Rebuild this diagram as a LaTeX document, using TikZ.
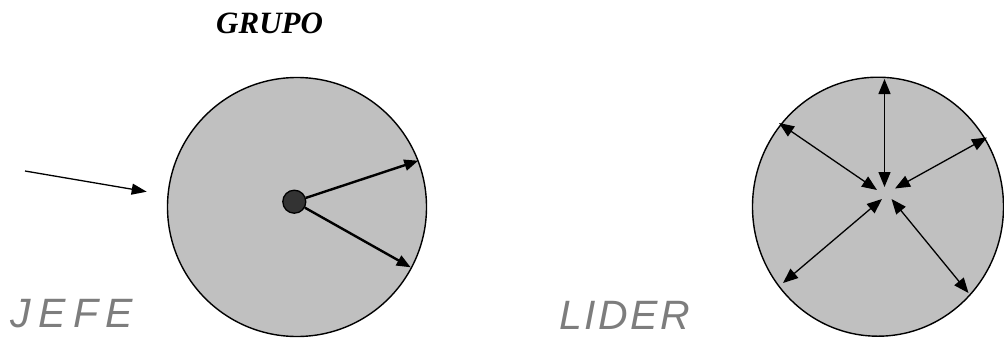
\documentclass[tikz,border=0pt]{standalone}
\usepackage{fontspec}
\setmainfont{Liberation Serif}
\newfontfamily\jefefont[LetterSpace=18.5]{Liberation Sans}
\newfontfamily\liderfont[LetterSpace=6.5]{Liberation Sans}
\usetikzlibrary{arrows.meta,shapes.geometric}
\definecolor{circfill}{RGB}{192,192,192}
\definecolor{labgray}{RGB}{125,125,125}
\definecolor{dotfill}{RGB}{51,51,51}
\begin{document}
\begin{tikzpicture}[x=1pt,y=-1pt,
  group/.style={draw=black,line width=1.4pt,fill=circfill},
  thickarrow/.style={line width=2.4pt,-{Triangle[length=14pt,width=11pt]}},
  thinarrow/.style={line width=1.3pt,-{Triangle[length=15pt,width=11pt]}},
  bothway/.style={line width=1.3pt,{Triangle[length=15pt,width=12pt]}-{Triangle[length=15pt,width=12pt]}},
  lab/.style={anchor=base west,inner sep=0pt,text=labgray},
  title/.style={anchor=base west,inner sep=0pt,font=\bfseries\itshape\fontsize{31}{31}\selectfont}]
\useasboundingbox (0,0) rectangle (1004,338);
% titles
\node[title] (grupo) at (216,33) {GRUPO};
\node[lab,font=\jefefont\itshape\fontsize{41}{41}\selectfont] (jefe) at (10,327) {JEFE};
\node[lab,font=\liderfont\itshape\fontsize{41}{41}\selectfont] (lider) at (559,329) {LIDER};
% left group
\node[group,circle,minimum size=259pt,inner sep=0pt] (gl) at (297,207) {};
\node[circle,draw=black,line width=1.3pt,fill=dotfill,minimum size=23pt,inner sep=0pt] (dot) at (294.3,201.7) {};
\coordinate (a1) at (418.3,160.7);
\coordinate (a2) at (410.7,267.3);
\draw[thickarrow] (dot) -- (a1);
\draw[thickarrow] (dot) -- (a2);
\coordinate (ext) at (25,171);
\coordinate (extend) at (146.7,191.7);
\draw[thinarrow] (ext) -- (extend);
% right group
\node[group,ellipse,minimum width=251pt,minimum height=259pt,inner sep=0pt] (gr) at (878,206.7) {};
\coordinate (u1) at (884.5,79);
\coordinate (u0) at (884.5,187);
\coordinate (l1) at (779,123);
\coordinate (l0) at (877,190);
\coordinate (r1) at (987,137.5);
\coordinate (r0) at (895,188.5);
\coordinate (dl1) at (783,283);
\coordinate (dl0) at (882,199);
\coordinate (dr1) at (968.5,293);
\coordinate (dr0) at (891.5,199);
\draw[bothway] (u0) -- (u1);
\draw[bothway] (l0) -- (l1);
\draw[bothway] (r0) -- (r1);
\draw[bothway] (dl0) -- (dl1);
\draw[bothway] (dr0) -- (dr1);
\end{tikzpicture}
\end{document}
